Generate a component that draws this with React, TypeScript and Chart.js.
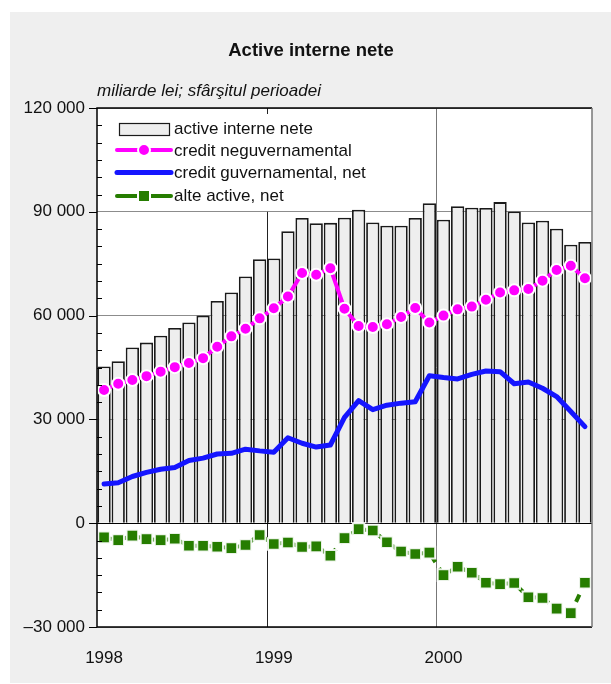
import React, { useEffect, useRef } from 'react';
import { Chart, registerables } from 'chart.js';

Chart.register(...registerables);

// ---------- data ----------
const categories = [
  '1998-01', '1998-02', '1998-03', '1998-04', '1998-05', '1998-06',
  '1998-07', '1998-08', '1998-09', '1998-10', '1998-11', '1998-12',
  '1999-01', '1999-02', '1999-03', '1999-04', '1999-05', '1999-06',
  '1999-07', '1999-08', '1999-09', '1999-10', '1999-11', '1999-12',
  '2000-01', '2000-02', '2000-03', '2000-04', '2000-05', '2000-06',
  '2000-07', '2000-08', '2000-09', '2000-10', '2000-11',
];

const activeInterneNete = [
  45300, 46800, 50800, 52200, 54200, 56400, 58000, 60000, 64200, 66700, 71300, 76300,
  76500, 84400, 88200, 86700, 86800, 88300, 90600, 86900, 86000, 86000, 88200, 92500,
  87700, 91600, 91200, 91100, 92800, 90100, 86900, 87400, 85100, 80500, 81300,
];

const creditNeguvernamental = [
  38500, 40300, 41400, 42500, 43800, 45100, 46300, 47700, 51000, 54000, 56200, 59200,
  62100, 65500, 72300, 71800, 73700, 62000, 57000, 56700, 57500, 59600, 62200, 58000,
  60000, 61800, 62600, 64600, 66700, 67300, 67700, 70100, 73200, 74400, 70800,
];

const creditGuvernamental = [
  11300, 11700, 13500, 14700, 15600, 16100, 18100, 18800, 20000, 20200, 21400, 20900,
  20500, 24700, 23100, 22000, 22600, 30600, 35400, 32800, 34100, 34700, 35100, 42600,
  42100, 41700, 43000, 44000, 43800, 40300, 40800, 39000, 36600, 32300, 27900,
];

const alteActive = [
  -4100, -4900, -3600, -4600, -4900, -4500, -6500, -6500, -6800, -7200, -6300, -3400,
  -6000, -5600, -6900, -6700, -9400, -4300, -1700, -2100, -5500, -8200, -8900, -8500,
  -15000, -12600, -14300, -17200, -17600, -17300, -21400, -21600, -24700, -26000, -17200,
];

const yTickValues = [-30000, 0, 30000, 60000, 90000, 120000];
const yTickLabels = ['\u201330 000', '0', '30 000', '60 000', '90 000', '120 000'];

const legendLabels = [
  'active interne nete',
  'credit neguvernamental',
  'credit guvernamental, net',
  'alte active, net',
];

const titleText = 'Active interne nete';
const subtitleText = 'miliarde lei; sf\u00e2r\u015fitul perioadei';

// ---------- styles ----------
const FONT = '"Liberation Sans", Arial, Helvetica, sans-serif';
const C_BAR = '#eeeeee';
const C_BAR_BORDER = '#1a1a1a';
const C_MAGENTA = '#ff00ff';
const C_BLUE = '#1515ff';
const C_GREEN = '#267d00';
const C_TEXT = '#111111';

const decorPlugin = {
  id: 'decor',
  beforeDraw(chart: any) {
    const { ctx, chartArea: a } = chart;
    ctx.save();
    ctx.fillStyle = '#efefef';
    ctx.fillRect(10, 12, 601, 671);
    ctx.fillStyle = '#ffffff';
    ctx.fillRect(a.left, a.top, a.right - a.left, a.bottom - a.top);
    ctx.restore();
  },
  beforeDatasetsDraw(chart: any) {
    const { ctx, chartArea: a, scales } = chart;
    const xs = scales.x;
    const ys = scales.y;
    const starts: number[] = [];
    categories.forEach((c, i) => {
      if (i > 0 && c.endsWith('-01')) starts.push(i);
    });
    ctx.save();
    ctx.lineWidth = 1;
    starts.forEach((i, k) => {
      const px = Math.round((xs.getPixelForValue(i - 1) + xs.getPixelForValue(i)) / 2) + 0.5;
      ctx.beginPath();
      if (k === 0) {
        ctx.strokeStyle = '#222222';
        ctx.moveTo(px, ys.getPixelForValue(90000));
        ctx.lineTo(px, a.bottom);
        ctx.moveTo(px, a.top);
        ctx.lineTo(px, a.top + 6);
      } else {
        ctx.strokeStyle = '#777777';
        ctx.moveTo(px, a.top);
        ctx.lineTo(px, a.bottom);
      }
      ctx.stroke();
    });
    ctx.restore();
  },
  afterDatasetDraw(chart: any, args: any) {
    if (args.index !== 0) return;
    const { ctx, chartArea: a, scales } = chart;
    const y0 = Math.round(scales.y.getPixelForValue(0)) + 0.5;
    ctx.save();
    ctx.strokeStyle = '#000000';
    ctx.lineWidth = 1.2;
    ctx.beginPath();
    ctx.moveTo(a.left, y0);
    ctx.lineTo(a.right, y0);
    ctx.stroke();
    ctx.restore();
  },
  afterDraw(chart: any) {
    const { ctx, chartArea: a, scales } = chart;
    const ys = scales.y;
    ctx.save();
    // frame
    ctx.lineWidth = 1.5;
    ctx.strokeStyle = '#000000';
    ctx.beginPath();
    ctx.moveTo(a.right, a.top);
    ctx.lineTo(a.left, a.top);
    ctx.lineTo(a.left, a.bottom);
    ctx.lineTo(a.right, a.bottom);
    ctx.stroke();
    ctx.strokeStyle = '#777777';
    ctx.beginPath();
    ctx.moveTo(a.right, a.top);
    ctx.lineTo(a.right, a.bottom);
    ctx.stroke();
    // y tick marks
    ctx.strokeStyle = '#000000';
    ctx.lineWidth = 1;
    const minor = (yTickValues[1] - yTickValues[0]) / 6;
    for (let v = yTickValues[0]; v <= yTickValues[yTickValues.length - 1]; v += minor) {
      const py = Math.round(ys.getPixelForValue(v)) + 0.5;
      ctx.beginPath();
      if (yTickValues.includes(v)) {
        ctx.moveTo(a.left - 8, py);
        ctx.lineTo(a.left, py);
      } else {
        ctx.moveTo(a.left, py);
        ctx.lineTo(a.left + 5, py);
      }
      ctx.stroke();
    }
    // title & subtitle
    ctx.fillStyle = C_TEXT;
    ctx.textAlign = 'center';
    ctx.textBaseline = 'alphabetic';
    ctx.font = `bold 18.5px ${FONT}`;
    ctx.fillText(titleText, 311, 56);
    ctx.textAlign = 'left';
    ctx.font = `italic 17px ${FONT}`;
    ctx.fillText(subtitleText, 97, 96);

    // legend
    const lx0 = 117;
    const lx1 = 171;
    const tx = 174;
    const rows = [129.5, 151, 173, 196];
    // bars swatch
    ctx.fillStyle = C_BAR;
    ctx.fillRect(119.5, 123.5, 50, 12);
    ctx.strokeStyle = C_BAR_BORDER;
    ctx.lineWidth = 1.2;
    ctx.strokeRect(119.5, 123.5, 50, 12);
    // magenta
    ctx.lineCap = 'round';
    ctx.strokeStyle = C_MAGENTA;
    ctx.lineWidth = 4;
    ctx.beginPath();
    ctx.moveTo(lx0, 150);
    ctx.lineTo(lx1, 150);
    ctx.stroke();
    ctx.beginPath();
    ctx.arc(144, 150, 6, 0, Math.PI * 2);
    ctx.fillStyle = C_MAGENTA;
    ctx.fill();
    ctx.strokeStyle = '#ffffff';
    ctx.lineWidth = 2;
    ctx.stroke();
    // blue
    ctx.strokeStyle = C_BLUE;
    ctx.lineWidth = 5;
    ctx.beginPath();
    ctx.moveTo(lx0, 172.5);
    ctx.lineTo(lx1, 172.5);
    ctx.stroke();
    // green
    ctx.strokeStyle = C_GREEN;
    ctx.lineWidth = 4;
    ctx.beginPath();
    ctx.moveTo(lx0, 196);
    ctx.lineTo(lx1, 196);
    ctx.stroke();
    ctx.fillStyle = '#ffffff';
    ctx.fillRect(137, 189, 14, 14);
    ctx.fillStyle = C_GREEN;
    ctx.fillRect(139, 191, 10, 10);

    ctx.fillStyle = C_TEXT;
    ctx.font = `17px ${FONT}`;
    ctx.textBaseline = 'middle';
    legendLabels.forEach((t, i) => ctx.fillText(t, tx, rows[i]));
    ctx.restore();
  },
};

export default function App() {
  const ref = useRef<HTMLCanvasElement>(null);
  useEffect(() => {
    if (!ref.current) return;
    const chart = new Chart(ref.current, {
      type: 'bar',
      data: {
        labels: categories,
        datasets: [
          {
            type: 'bar',
            label: legendLabels[0],
            data: activeInterneNete,
            backgroundColor: C_BAR,
            borderColor: C_BAR_BORDER,
            borderWidth: 1.8,
            barPercentage: 0.94,
            categoryPercentage: 1,
            order: 10,
          },
          {
            type: 'line',
            label: legendLabels[1],
            data: creditNeguvernamental,
            borderColor: C_MAGENTA,
            borderWidth: 4,
            pointStyle: 'circle',
            pointRadius: 6,
            pointBorderWidth: 2,
            pointBorderColor: '#ffffff',
            pointBackgroundColor: C_MAGENTA,
            tension: 0,
            order: 2,
          },
          {
            type: 'line',
            label: legendLabels[2],
            data: creditGuvernamental,
            borderColor: C_BLUE,
            borderWidth: 5,
            pointRadius: 0,
            borderJoinStyle: 'round',
            borderCapStyle: 'round',
            tension: 0,
            order: 3,
          },
          {
            type: 'line',
            label: legendLabels[3],
            data: alteActive,
            borderColor: C_GREEN,
            borderWidth: 4,
            borderDash: [8, 7],
            pointStyle: 'rect',
            pointRadius: 8.2,
            pointBorderWidth: 2,
            pointBorderColor: 'rgba(255,255,255,0.9)',
            pointBackgroundColor: C_GREEN,
            tension: 0,
            order: 1,
          },
        ],
      },
      options: {
        responsive: false,
        animation: false,
        layout: { padding: { top: 108, right: 19, left: 0, bottom: 0 } },
        plugins: {
          legend: { display: false },
          title: { display: false },
          tooltip: { enabled: false },
        },
        scales: {
          x: {
            type: 'category',
            offset: true,
            grid: { display: false, drawTicks: false },
            border: { display: false },
            ticks: {
              autoSkip: false,
              maxRotation: 0,
              minRotation: 0,
              padding: 21,
              color: C_TEXT,
              font: { family: FONT, size: 17 },
              callback: (_v: any, i: number) =>
                categories[i].endsWith('-01') ? categories[i].slice(0, 4) : '',
            },
            afterFit: (s: any) => {
              s.height = 57;
            },
          },
          y: {
            type: 'linear',
            min: yTickValues[0],
            max: yTickValues[yTickValues.length - 1],
            ticks: {
              stepSize: yTickValues[1] - yTickValues[0],
              padding: 12,
              color: C_TEXT,
              font: { family: FONT, size: 17 },
              callback: (v: any) => {
                const idx = yTickValues.indexOf(Number(v));
                return idx >= 0 ? yTickLabels[idx] : '';
              },
            },
            grid: {
              drawTicks: false,
              color: (c: any) => (c.tick && c.tick.value === 0 ? '#000000' : '#8c8c8c'),
              lineWidth: 1,
            },
            border: { display: false },
            afterFit: (s: any) => {
              s.width = 97;
            },
          },
        },
      },
      plugins: [decorPlugin],
    } as any);
    return () => chart.destroy();
  }, []);

  return (
    <div style={{ position: 'fixed', left: 0, top: 0, width: 611, height: 684 }}>
      <canvas ref={ref} width={611} height={684} style={{ display: 'block', width: 611, height: 684 }} />
    </div>
  );
}
